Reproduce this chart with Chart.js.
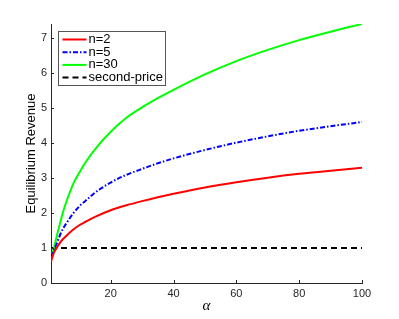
<!DOCTYPE html>
<html>
<head>
<meta charset="utf-8">
<script src="https://cdn.jsdelivr.net/npm/chart.js@4/dist/chart.umd.min.js"></script>
<style>
  html, body { margin: 0; padding: 0; background: #fff; }
  canvas { display: block; }
</style>
</head>
<body>
<canvas id="chart" width="399" height="319"></canvas>
<script>
// values
const alphas = [1, 2, 3, 4, 5, 6, 8, 10, 12, 15, 20, 25, 30, 35, 40, 50, 60, 70, 80, 90, 100]
const revN2 = [0.62, 0.88, 1.03, 1.17, 1.27, 1.36, 1.52, 1.65, 1.75, 1.89, 2.08, 2.22, 2.34, 2.45, 2.55, 2.73, 2.88, 3.01, 3.12, 3.21, 3.29]
const revN5 = [0.75, 0.95, 1.17, 1.40, 1.58, 1.72, 1.98, 2.19, 2.35, 2.58, 2.87, 3.09, 3.26, 3.42, 3.56, 3.80, 4.01, 4.19, 4.35, 4.48, 4.60]
const revN30 = [0.72, 1.02, 1.40, 1.75, 2.08, 2.35, 2.82, 3.15, 3.45, 3.82, 4.32, 4.72, 5.02, 5.28, 5.52, 5.96, 6.34, 6.66, 6.94, 7.18, 7.40]
const secondPriceX = [1, 100]
const secondPrice = [1, 1]
const xTicks = [20, 40, 60, 80, 100]
const yTicks = [0, 1, 2, 3, 4, 5, 6, 7]

const axisColor = '#262626'
const toPoints = (xs, ys) => xs.map((x, i) => ({ x: x, y: ys[i] }))

// MATLAB style ticks pointing into the plot
const innerTicks = {
  id: 'innerTicks',
  afterDraw (chart) {
    const { ctx, chartArea, scales } = chart
    ctx.save()
    ctx.strokeStyle = axisColor
    ctx.lineWidth = 1
    ctx.beginPath()
    xTicks.forEach((v) => {
      const px = Math.round(scales.x.getPixelForValue(v)) + 0.5
      ctx.moveTo(px, chartArea.bottom)
      ctx.lineTo(px, chartArea.bottom - 3)
    })
    yTicks.forEach((v) => {
      const py = Math.round(scales.y.getPixelForValue(v)) + 0.5
      ctx.moveTo(chartArea.left, py)
      ctx.lineTo(chartArea.left + 3, py)
    })
    ctx.stroke()
    ctx.restore()
  }
}

// legend box in the upper left corner of the axes
const boxLegend = {
  id: 'boxLegend',
  afterDraw (chart) {
    const { ctx } = chart
    const left = 58.5, top = 31.5, w = 107, h = 54
    ctx.save()
    ctx.fillStyle = '#fff'
    ctx.fillRect(left, top, w, h)
    ctx.strokeStyle = '#555'
    ctx.lineWidth = 1
    ctx.strokeRect(left, top, w, h)
    ctx.font = '13px "Liberation Sans", Arial, sans-serif'
    ctx.textBaseline = 'middle'
    chart.data.datasets.forEach((ds, i) => {
      const y = top + 8 + i * 12.7
      ctx.strokeStyle = ds.borderColor
      ctx.lineWidth = ds.borderWidth
      ctx.setLineDash(ds.borderDash || [])
      ctx.beginPath()
      ctx.moveTo(left + 4, y)
      ctx.lineTo(left + 28, y)
      ctx.stroke()
      ctx.setLineDash([])
      ctx.fillStyle = '#000'
      ctx.fillText(ds.label, left + 30, y)
    })
    ctx.restore()
  }
}

new Chart(document.getElementById('chart'), {
  type: 'line',
  data: {
    datasets: [
      { label: 'n=2', data: toPoints(alphas, revN2), borderColor: '#ff0000', borderWidth: 2 },
      { label: 'n=5', data: toPoints(alphas, revN5), borderColor: '#0000ff', borderWidth: 2, borderDash: [5, 2, 1.5, 2] },
      { label: 'n=30', data: toPoints(alphas, revN30), borderColor: '#00ff00', borderWidth: 2 },
      { label: 'second-price', data: toPoints(secondPriceX, secondPrice), borderColor: '#000000', borderWidth: 2, borderDash: [6, 4] }
    ]
  },
  options: {
    responsive: false,
    devicePixelRatio: 1,
    animation: false,
    layout: { padding: { top: 24, right: 37, left: 0, bottom: 0 } },
    elements: {
      point: { radius: 0, hoverRadius: 0 },
      line: { cubicInterpolationMode: 'monotone', fill: false }
    },
    plugins: {
      legend: { display: false },
      tooltip: { enabled: false }
    },
    scales: {
      x: {
        type: 'linear',
        min: 1,
        max: 100,
        afterBuildTicks: (scale) => { scale.ticks = xTicks.map((v) => ({ value: v })) },
        afterFit: (scale) => { scale.height = 36 },
        grid: { drawOnChartArea: false, drawTicks: false },
        border: { display: true, color: axisColor, width: 1 },
        ticks: { color: axisColor, padding: 4, maxRotation: 0, font: { family: '"Liberation Sans", Arial, sans-serif', size: 11 } },
        title: { display: true, text: 'α', color: '#000', padding: { top: 0, bottom: 4 }, font: { family: '"Liberation Serif", "Times New Roman", serif', size: 15, style: 'italic' } }
      },
      y: {
        min: 0,
        max: 7.4,
        afterBuildTicks: (scale) => { scale.ticks = yTicks.map((v) => ({ value: v })) },
        afterFit: (scale) => { scale.width = 51 },
        grid: { drawOnChartArea: false, drawTicks: false },
        border: { display: true, color: axisColor, width: 1 },
        ticks: { color: axisColor, padding: 4, font: { family: '"Liberation Sans", Arial, sans-serif', size: 11 } },
        title: { display: true, text: 'Equilibrium Revenue', color: '#000', padding: { top: 24, bottom: 0 }, font: { family: '"Liberation Sans", Arial, sans-serif', size: 13 } }
      }
    }
  },
  plugins: [innerTicks, boxLegend]
})
</script>
</body>
</html>
